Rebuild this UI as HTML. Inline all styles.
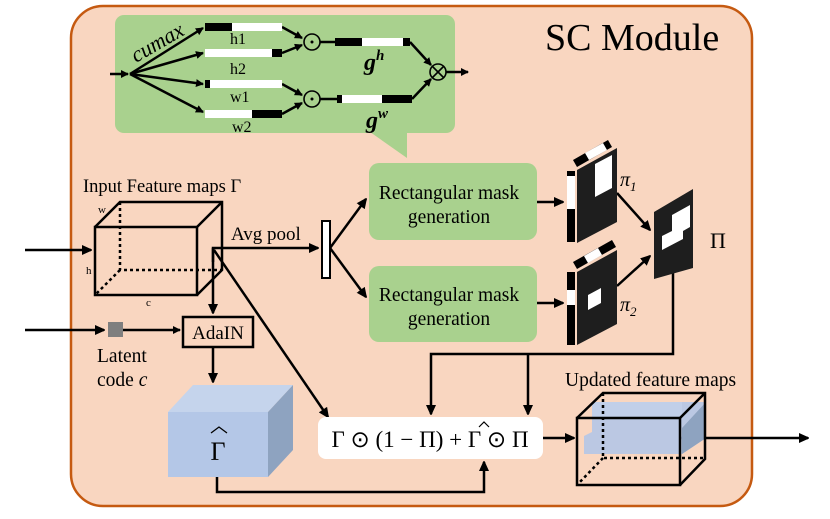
<!DOCTYPE html>
<html><head><meta charset="utf-8"><style>
body{margin:0;background:#fff;}
svg{display:block;font-family:"Liberation Serif",serif;}
text{font-family:"Liberation Serif",serif;}
</style></head><body>
<svg width="830" height="519" viewBox="0 0 830 519" xmlns="http://www.w3.org/2000/svg">
<defs>
<marker id="a" markerWidth="10" markerHeight="10" refX="9" refY="5" orient="auto" markerUnits="userSpaceOnUse"><path d="M0,0 L11,5 L0,10 z" fill="#000"/></marker>
<marker id="s" markerWidth="8" markerHeight="8" refX="7" refY="4" orient="auto" markerUnits="userSpaceOnUse"><path d="M0,0 L8,4 L0,8 z" fill="#000"/></marker>
</defs>
<rect x="71" y="6" width="681" height="500" rx="32" fill="#f9d6c0" stroke="#c55a11" stroke-width="2.5"/>
<text x="545" y="50" font-size="38">SC Module</text>

<!-- bubble -->
<rect x="115" y="15" width="340" height="118" rx="9" fill="#a9d18e"/>
<path d="M370,132 L407,132 L407,158 z" fill="#a9d18e"/>
<g stroke="#000" stroke-width="2.5" fill="none">
<line x1="110" y1="74" x2="128" y2="74" marker-end="url(#s)"/>
<line x1="130" y1="74" x2="203" y2="28" marker-end="url(#s)"/>
<line x1="130" y1="74" x2="203" y2="53" marker-end="url(#s)"/>
<line x1="130" y1="74" x2="203" y2="84" marker-end="url(#s)"/>
<line x1="130" y1="74" x2="203" y2="112" marker-end="url(#s)"/>
<line x1="282" y1="27" x2="302" y2="38" marker-end="url(#s)"/>
<line x1="282" y1="53" x2="302" y2="45" marker-end="url(#s)"/>
<line x1="282" y1="84" x2="302" y2="95" marker-end="url(#s)"/>
<line x1="282" y1="114" x2="302" y2="103" marker-end="url(#s)"/>
<line x1="320" y1="42" x2="335" y2="42"/>
<line x1="320" y1="99" x2="337" y2="99"/>
<line x1="410" y1="42" x2="431" y2="65" marker-end="url(#s)"/>
<line x1="412" y1="99" x2="431" y2="79" marker-end="url(#s)"/>
<line x1="446" y1="72" x2="468" y2="72" marker-end="url(#s)"/>
</g>
<text x="136" y="63" font-size="22" font-style="italic" transform="rotate(-30 136 63)">cumax</text>
<rect x="205" y="23" width="27" height="8" fill="#000"/><rect x="232" y="23" width="50" height="8" fill="#fff"/>
<rect x="205" y="49" width="67" height="8" fill="#fff"/><rect x="272" y="49" width="10" height="8" fill="#000"/>
<rect x="205" y="80" width="5" height="8" fill="#000"/><rect x="210" y="80" width="72" height="8" fill="#fff"/>
<rect x="205" y="110" width="47" height="8" fill="#fff"/><rect x="252" y="110" width="30" height="8" fill="#000"/>
<g font-size="16"><text x="230" y="44">h1</text><text x="230" y="74">h2</text><text x="230" y="102">w1</text><text x="232" y="132">w2</text></g>
<rect x="335" y="38" width="27" height="8" fill="#000"/><rect x="362" y="38" width="41" height="8" fill="#fff"/><rect x="403" y="38" width="7" height="8" fill="#000"/>
<rect x="337" y="95" width="5" height="8" fill="#000"/><rect x="342" y="95" width="40" height="8" fill="#fff"/><rect x="382" y="95" width="30" height="8" fill="#000"/>
<g stroke="#000" stroke-width="1.6" fill="none">
<circle cx="312" cy="42" r="8"/><circle cx="312" cy="99" r="8"/><circle cx="438" cy="72" r="8"/>
<line x1="432" y1="66" x2="444" y2="78"/><line x1="444" y1="66" x2="432" y2="78"/>
</g>
<circle cx="312" cy="42" r="1.5"/><circle cx="312" cy="99" r="1.5"/>
<text x="364" y="70" font-size="24" font-weight="bold" font-style="italic">g<tspan font-size="15" dy="-10">h</tspan></text>
<text x="366" y="128" font-size="24" font-weight="bold" font-style="italic">g<tspan font-size="15" dy="-10">w</tspan></text>

<!-- input cube -->
<text x="83" y="192" font-size="18.5">Input Feature maps Γ</text>
<g stroke="#000" stroke-width="2.5" fill="none">
<rect x="95" y="227" width="102" height="68"/>
<path d="M95,227 L120,202 L222,202 L222,270 L197,295 M197,227 L222,202"/>
<path d="M120,202 L120,270 L222,270 M120,270 L95,295" stroke-dasharray="3,3"/>
</g>
<g font-size="11"><text x="98" y="213">w</text><text x="86" y="274">h</text><text x="146" y="306">c</text></g>
<g stroke="#000" stroke-width="2.5" fill="none">
<line x1="25" y1="250" x2="91" y2="250" marker-end="url(#a)"/>
<polyline points="213,262 213,248 318,248" marker-end="url(#a)"/>
<line x1="330" y1="248" x2="366" y2="199" marker-end="url(#a)"/>
<line x1="330" y1="248" x2="366" y2="297" marker-end="url(#a)"/>
<line x1="213" y1="248" x2="213" y2="313" marker-end="url(#a)"/>
<line x1="214" y1="250" x2="328" y2="417" marker-end="url(#a)"/>
<line x1="25" y1="330" x2="104" y2="330" marker-end="url(#a)"/>
<line x1="123" y1="330" x2="180" y2="330" marker-end="url(#s)"/>
<line x1="213" y1="347" x2="213" y2="382" marker-end="url(#a)"/>
<polyline points="217,477 217,492 484,492 484,462" marker-end="url(#a)"/>
<line x1="537" y1="202" x2="563" y2="202" marker-end="url(#a)"/>
<line x1="537" y1="303" x2="563" y2="303" marker-end="url(#a)"/>
<line x1="617" y1="193" x2="650" y2="230" marker-end="url(#a)"/>
<line x1="617" y1="286" x2="650" y2="256" marker-end="url(#a)"/>
<polyline points="673,268 673,354 431,354 431,414" marker-end="url(#a)"/>
<line x1="528" y1="354" x2="528" y2="414" marker-end="url(#a)"/>
<line x1="543" y1="438" x2="574" y2="438" marker-end="url(#a)"/>
<line x1="680" y1="438" x2="808" y2="438" marker-end="url(#a)"/>
</g>
<text x="231" y="240" font-size="19">Avg pool</text>
<rect x="322" y="221" width="8" height="57" fill="#fff" stroke="#000" stroke-width="2"/>

<rect x="369" y="163" width="168" height="77" rx="10" fill="#a9d18e"/>
<rect x="369" y="266" width="168" height="76" rx="10" fill="#a9d18e"/>
<g font-size="19.5" text-anchor="middle"><text x="449" y="199">Rectangular mask</text><text x="449" y="223">generation</text>
<text x="449" y="301">Rectangular mask</text><text x="449" y="325">generation</text></g>

<!-- masks -->
<rect x="567" y="171" width="8" height="71" fill="#000"/><rect x="567" y="176" width="8" height="33" fill="#fff"/>
<polygon points="577,170 617,148 617,222 577,243" fill="#1e1e1e"/>
<polygon points="573,160 608,140 612,147 577,167" fill="#000"/><polygon points="585,153 603,143 607,150 589,160" fill="#fff"/>
<polygon points="595,164 612,155 612,188 595,197" fill="#fff"/>
<rect x="567" y="272" width="8" height="73" fill="#000"/><rect x="567" y="290" width="8" height="15" fill="#fff"/>
<polygon points="577,272 617,250 617,324 577,345" fill="#1e1e1e"/>
<polygon points="573,262 612,240 616,247 577,269" fill="#000"/><polygon points="584,256 598,248 602,255 588,263" fill="#fff"/>
<polygon points="588,295 601,288 601,303 588,310" fill="#fff"/>
<text x="620" y="186" font-size="20" font-style="italic">π<tspan font-size="13" dy="5">1</tspan></text>
<text x="620" y="311" font-size="20" font-style="italic">π<tspan font-size="13" dy="5">2</tspan></text>
<polygon points="654,212 693,189 693,268 654,279" fill="#1e1e1e"/>
<polygon points="672,215 690,205 690,227 683,231 683,239 662,250 662,236 672,231" fill="#fff"/>
<text x="710" y="248" font-size="22">Π</text>

<!-- AdaIN / latent -->
<rect x="108" y="322" width="15" height="15" fill="#7f7f7f"/>
<rect x="183" y="317" width="70" height="30" fill="none" stroke="#000" stroke-width="2.5"/>
<text x="218" y="339" font-size="19" text-anchor="middle">AdaIN</text>
<text x="97" y="362" font-size="19.5">Latent</text>
<text x="97" y="386" font-size="19.5">code <tspan font-style="italic">c</tspan></text>

<polygon points="168,412 193,385 293,385 268,412" fill="#c5d4ec"/>
<polygon points="268,412 293,385 293,450 268,477" fill="#8ea3c0"/>
<rect x="168" y="412" width="100" height="65" fill="#b4c7e7"/>
<text x="218" y="460" font-size="26" text-anchor="middle">Γ</text>
<path d="M211,433 L219,427 L227,433" fill="none" stroke="#000" stroke-width="1.3"/>

<rect x="318" y="417" width="225" height="42" rx="8" fill="#fff"/>
<text x="430" y="447" font-size="23" text-anchor="middle">Γ ⊙ (1 − Π) + Γ ⊙ Π</text>
<path d="M479,427 L484,422 L489,427" fill="none" stroke="#000" stroke-width="1.2"/>

<!-- updated cube -->
<text x="565" y="386" font-size="19.5">Updated feature maps</text>
<polygon points="592,402 706,402 706,438 682,454 584,454 584,436 592,432" fill="#b4c7e7" opacity="0.9"/>
<polygon points="682,428 706,402 706,438 682,454" fill="#8ea3c0"/>
<rect x="592" y="402" width="90" height="16" fill="#c5d4ec" opacity="0.6"/>
<g stroke="#000" stroke-width="2.5" fill="none">
<rect x="577" y="418" width="103" height="67"/>
<path d="M577,418 L603,393 L705,393 L705,459 L680,485 M680,418 L705,393"/>
<path d="M603,393 L603,458 L705,458 M603,458 L577,485" stroke-dasharray="3,3"/>
</g>
</svg>
</body></html>
